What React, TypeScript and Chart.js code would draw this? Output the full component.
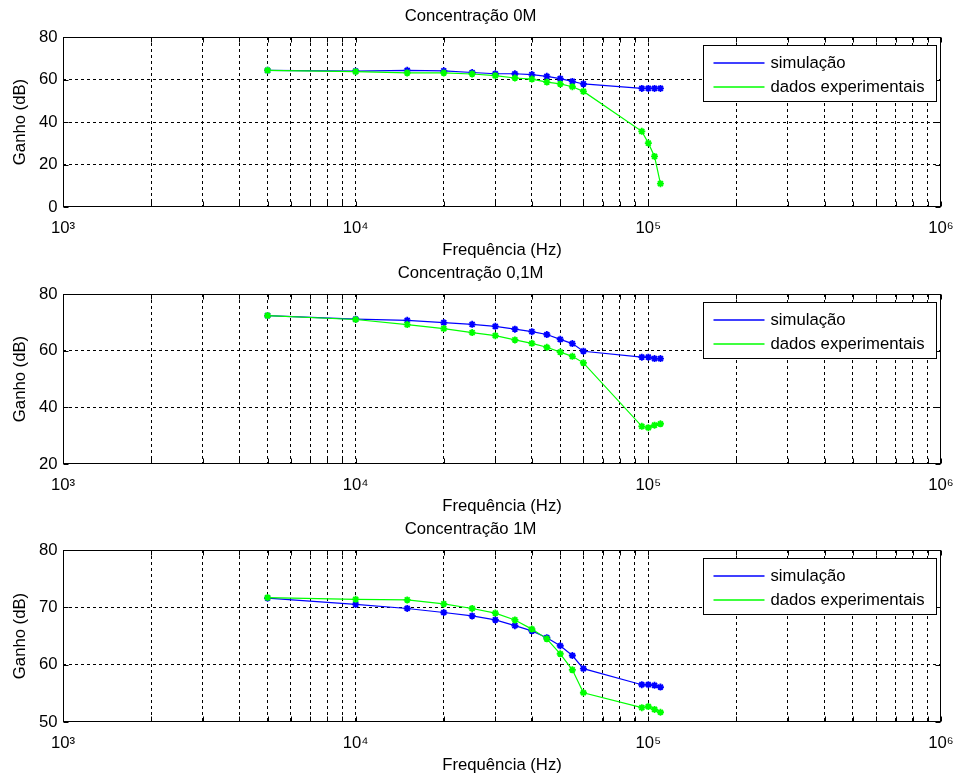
import React, { useEffect, useRef } from 'react';
import { Chart, registerables } from 'chart.js';

Chart.register(...registerables);

// ---------- data ----------
const FREQ_HZ = [5000, 10000, 15000, 20000, 25000, 30000, 35000, 40000, 45000, 50000, 55000, 60000, 95000, 100000, 105000, 110000];

const SIM_0M = [64.3, 63.9, 64.3, 64.1, 63.3, 62.7, 62.7, 62.3, 61.5, 60.4, 59.1, 57.9, 55.8, 55.8, 55.8, 55.8];
const EXP_0M = [64.3, 63.7, 63.1, 63.1, 62.6, 61.8, 60.7, 60.2, 58.8, 57.9, 56.6, 54.4, 35.6, 30.1, 23.8, 11.0];

const SIM_01M = [72.4, 71.1, 70.7, 69.9, 69.3, 68.6, 67.6, 66.7, 65.7, 64.0, 62.5, 59.8, 57.7, 57.7, 57.2, 57.2];
const EXP_01M = [72.4, 71.0, 69.2, 67.8, 66.4, 65.3, 63.8, 62.6, 61.2, 59.5, 58.0, 55.7, 33.3, 32.8, 33.7, 34.2];

const SIM_1M = [71.6, 70.5, 69.8, 69.1, 68.5, 67.8, 66.8, 65.9, 64.7, 63.3, 61.6, 59.3, 56.5, 56.5, 56.4, 56.1];
const EXP_1M = [71.7, 71.4, 71.3, 70.6, 69.8, 69.0, 67.8, 66.2, 64.5, 61.9, 59.1, 55.1, 52.5, 52.7, 52.2, 51.7];

const PANEL_TITLES = ['Concentração 0M', 'Concentração 0,1M', 'Concentração 1M'];
const SERIES_LABELS = ['simulação', 'dados experimentais'];
const X_TITLE = 'Frequência (Hz)';
const Y_TITLE = 'Ganho (dB)';
const X_MIN = 1e3;
const X_MAX = 1e6;
const X_DECADE_LABELS: Record<string, string> = { '1000': '10³', '10000': '10⁴', '100000': '10⁵', '1000000': '10⁶' };
const Y_MINS = [0, 20, 50];
const Y_MAXS = [80, 80, 80];
const Y_STEPS = [20, 20, 10];
const SIM_SERIES = [SIM_0M, SIM_01M, SIM_1M];
const EXP_SERIES = [EXP_0M, EXP_01M, EXP_1M];

// ---------- styles / layout ----------
const FONT_FAMILY = "'Liberation Sans', Arial, Helvetica, sans-serif";
const FONT_SIZE = 16.7;
const TEXT_COLOR = '#000';
const SIM_COLOR = '#0000ff';
const EXP_COLOR = '#00ff00';
const W = 957;
const PLOT_LEFT = 63;
const PLOT_RIGHT = 941;

const LAYOUT = [
  { top: 0, height: 260, chartTop: 37, chartBottom: 207, xTitlePad: 0 },
  { top: 260, height: 258, chartTop: 34, chartBottom: 204, xTitlePad: 1.3 },
  { top: 518, height: 260, chartTop: 32, chartBottom: 204, xTitlePad: 3 },
];

const framePlugin = {
  id: 'matlabFrame',
  afterDatasetsDraw(chart: any) {
    const { ctx, chartArea: a, scales } = chart;
    ctx.save();
    ctx.setLineDash([]);
    ctx.strokeStyle = '#000';
    ctx.lineWidth = 1;
    const L = Math.round(a.left) + 0.5;
    const R = Math.round(a.right) - 0.5;
    const T = Math.round(a.top) + 0.5;
    const B = Math.round(a.bottom) - 0.5;
    ctx.strokeRect(L, T, R - L, B - T);
    const tl = 5;
    ctx.beginPath();
    scales.x.ticks.forEach((t: any) => {
      const px = Math.round(scales.x.getPixelForValue(t.value)) + 0.5;
      ctx.moveTo(px, B);
      ctx.lineTo(px, B - tl);
      ctx.moveTo(px, T);
      ctx.lineTo(px, T + tl);
    });
    scales.y.ticks.forEach((t: any) => {
      const py = Math.round(scales.y.getPixelForValue(t.value)) + 0.5;
      ctx.moveTo(L, py);
      ctx.lineTo(L + tl, py);
      ctx.moveTo(R, py);
      ctx.lineTo(R - tl, py);
    });
    ctx.stroke();
    ctx.restore();
  },
  afterDraw(chart: any) {
    const { ctx, chartArea: a } = chart;
    const w = 233;
    const h = 56;
    const left = Math.round(a.right - 5 - w) + 0.5;
    const top = Math.round(a.top + 8) + 0.5;
    ctx.save();
    ctx.setLineDash([]);
    ctx.fillStyle = '#fff';
    ctx.fillRect(left, top, w, h);
    ctx.strokeStyle = '#000';
    ctx.lineWidth = 1;
    ctx.strokeRect(left, top, w, h);
    ctx.font = `${FONT_SIZE}px ${FONT_FAMILY}`;
    ctx.textBaseline = 'middle';
    ctx.textAlign = 'left';
    chart.data.datasets.forEach((ds: any, i: number) => {
      const y = Math.round(top + 17.5 + i * 24);
      ctx.strokeStyle = ds.borderColor;
      ctx.lineWidth = 1.5;
      ctx.beginPath();
      ctx.moveTo(left + 10, y);
      ctx.lineTo(left + 61, y);
      ctx.stroke();
      ctx.fillStyle = TEXT_COLOR;
      ctx.fillText(ds.label, left + 67, y);
    });
    ctx.restore();
  },
};

function Panel({ idx }: { idx: number }) {
  const ref = useRef<HTMLCanvasElement | null>(null);
  const lay = LAYOUT[idx];
  useEffect(() => {
    if (!ref.current) return;
    const font = { family: FONT_FAMILY, size: FONT_SIZE, weight: 'normal' as const };
    const yMin = Y_MINS[idx];
    const yMax = Y_MAXS[idx];
    const mk = (vals: number[], label: string, color: string, order: number) => ({
      label,
      order,
      data: FREQ_HZ.map((f, i) => ({ x: f, y: vals[i] })),
      borderColor: color,
      backgroundColor: color,
      borderWidth: 1.2,
      pointStyle: 'star',
      pointRadius: 3.5,
      pointBorderWidth: 1.8,
      pointBorderColor: color,
      pointBackgroundColor: color,
      tension: 0,
    });
    const chart = new Chart(ref.current, {
      type: 'line',
      data: {
        datasets: [
          mk(SIM_SERIES[idx], SERIES_LABELS[0], SIM_COLOR, 1),
          mk(EXP_SERIES[idx], SERIES_LABELS[1], EXP_COLOR, 0),
        ],
      },
      options: {
        animation: false,
        responsive: false,
        maintainAspectRatio: false,
        layout: { padding: { left: 0, right: W - PLOT_RIGHT, top: 0, bottom: 0 } },
        plugins: {
          legend: { display: false },
          tooltip: { enabled: false },
          title: {
            display: true,
            text: PANEL_TITLES[idx],
            color: TEXT_COLOR,
            font,
            padding: { top: lay.chartTop - FONT_SIZE * 1.2 - 10.5, bottom: 10.5 },
          },
        },
        scales: {
          x: {
            type: 'logarithmic',
            min: X_MIN,
            max: X_MAX,
            afterBuildTicks: (scale: any) => {
              const t: any[] = [];
              for (let e = 3; e < 6; e++) for (let m = 1; m < 10; m++) t.push({ value: m * Math.pow(10, e) });
              t.push({ value: X_MAX });
              scale.ticks = t;
            },
            afterFit: (scale: any) => {
              scale.height = lay.height - lay.chartBottom;
              scale.paddingLeft = 0;
              scale.paddingRight = 0;
            },
            ticks: {
              autoSkip: false,
              maxRotation: 0,
              minRotation: 0,
              padding: 11,
              color: TEXT_COLOR,
              font,
              callback: (v: any) => X_DECADE_LABELS[String(Math.round(Number(v)))] ?? '',
            },
            grid: {
              drawTicks: false,
              lineWidth: 1,
              color: (c: any) =>
                c.tick && (c.tick.value === X_MIN || c.tick.value === X_MAX) ? 'rgba(0,0,0,0)' : '#000',
            },
            border: { display: false, dash: [3, 3] },
            title: {
              display: true,
              text: X_TITLE,
              color: TEXT_COLOR,
              font,
              padding: { top: 0, bottom: lay.xTitlePad },
            },
          },
          y: {
            type: 'linear',
            min: yMin,
            max: yMax,
            afterFit: (scale: any) => {
              scale.width = PLOT_LEFT;
            },
            ticks: { stepSize: Y_STEPS[idx], padding: 5.5, color: TEXT_COLOR, font },
            grid: {
              drawTicks: false,
              lineWidth: 1,
              color: (c: any) =>
                c.tick && (c.tick.value === yMin || c.tick.value === yMax) ? 'rgba(0,0,0,0)' : '#000',
            },
            border: { display: false, dash: [3, 3] },
            title: {
              display: true,
              text: Y_TITLE,
              color: TEXT_COLOR,
              font,
              padding: { top: 10, bottom: 0 },
            },
          },
        },
      } as any,
      plugins: [framePlugin],
    });
    return () => chart.destroy();
  }, [idx]);
  return (
    <div style={{ position: 'absolute', left: 0, top: lay.top, width: W, height: lay.height }}>
      <canvas ref={ref} width={W} height={lay.height} style={{ display: 'block', width: W, height: lay.height }} />
    </div>
  );
}

export default function App() {
  return (
    <div style={{ position: 'absolute', left: 0, top: 0, width: W, height: 778, background: '#fff' }}>
      <Panel idx={0} />
      <Panel idx={1} />
      <Panel idx={2} />
    </div>
  );
}
